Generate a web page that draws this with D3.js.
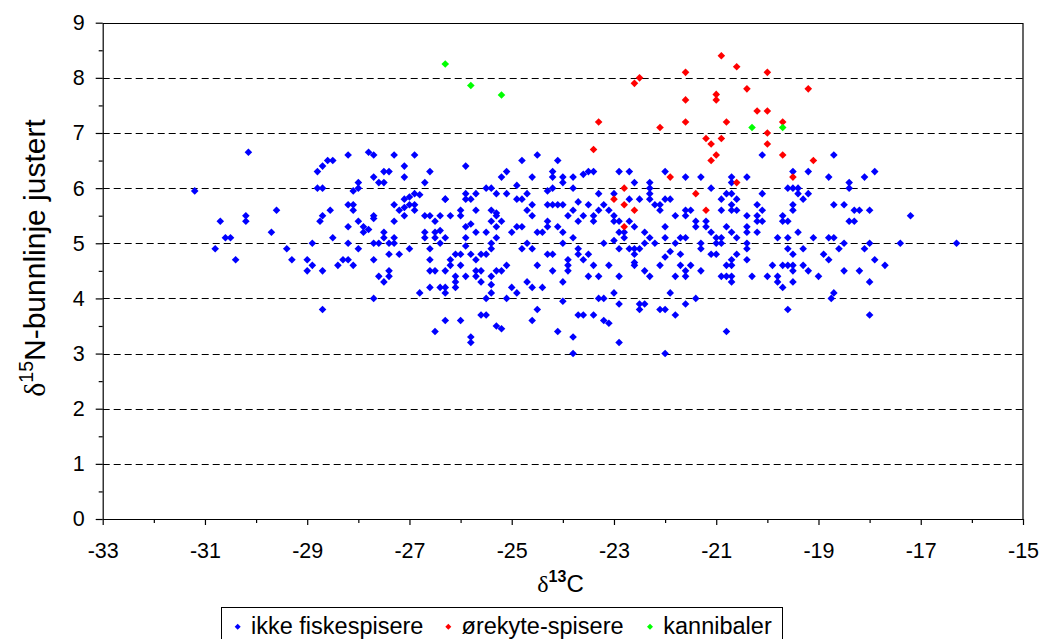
<!DOCTYPE html>
<html>
<head>
<meta charset="utf-8">
<script src="https://cdn.jsdelivr.net/npm/d3@7"></script>
<style>
  body { margin: 0; background: #fff; }
  text { font-family: "Liberation Sans", Arial, sans-serif; fill: #000; }
</style>
</head>
<body>
<svg class="chart" width="1042" height="639"></svg>
<script>
var width = 1042,
    height = 639;

var plot = {
    left: 102.7,
    right: 1023,
    top: 22.7,
    bottom: 519
};

// x = d13C, y = d15N-bunnlinje justert
var ikkeFiskespisere = [
    [-31.2, 5.95], [-30.8, 4.9], [-30.7, 5.4], [-30.6, 5.1], [-30.5, 5.1], [-30.4, 4.7], [-30.2, 5.5], [-30.2, 5.4],
    [-30.15, 6.65], [-29.7, 5.2], [-29.6, 5.6], [-29.4, 4.9], [-29.3, 4.7], [-29.0, 4.7], [-29.0, 4.5], [-28.9, 5.0],
    [-28.9, 4.6], [-28.8, 6.3], [-28.8, 6.0], [-28.7, 6.4], [-28.7, 6.0], [-28.7, 5.5], [-28.75, 5.4], [-28.7, 4.5],
    [-28.7, 3.8], [-28.6, 6.5], [-28.5, 6.5], [-28.55, 5.6], [-28.5, 5.1], [-28.4, 4.6], [-28.3, 4.7], [-28.2, 6.6],
    [-28.2, 5.7], [-28.2, 5.3], [-28.2, 5.0], [-28.2, 4.7], [-28.1, 5.7], [-28.1, 5.6], [-28.1, 4.6], [-28.1, 5.95],
    [-28.0, 6.1], [-28.0, 6.0], [-28.0, 5.4], [-28.0, 4.9], [-27.9, 5.3], [-27.9, 5.2], [-27.8, 5.25], [-27.8, 6.65],
    [-27.7, 6.6], [-27.7, 6.2], [-27.7, 5.5], [-27.7, 5.45], [-27.7, 5.0], [-27.7, 4.7], [-27.7, 4.0], [-27.6, 6.1],
    [-27.6, 5.0], [-27.6, 4.4], [-27.5, 6.3], [-27.5, 5.2], [-27.5, 5.1], [-27.5, 4.3], [-27.5, 6.1], [-27.4, 6.3],
    [-27.4, 5.0], [-27.4, 4.8], [-27.4, 4.5], [-27.4, 4.4], [-27.3, 6.6], [-27.3, 5.7], [-27.3, 5.4], [-27.3, 5.1],
    [-27.3, 5.0], [-27.2, 5.6], [-27.2, 4.8],
    [-26.5, 3.4], [-26.3, 3.6], [-26.0, 3.6], [-26.8, 4.1], [-26.9, 6.6], [-27.1, 6.4], [-27.1, 6.2], [-26.9, 5.9],
    [-26.8, 5.88], [-27.1, 5.8], [-27.0, 5.84], [-27.0, 5.7], [-26.9, 5.7], [-26.9, 5.6], [-27.1, 5.5], [-27.1, 5.65],
    [-26.6, 6.3], [-26.7, 6.1], [-26.7, 5.5], [-26.7, 5.2], [-26.7, 5.1], [-26.6, 5.5], [-26.5, 5.4], [-26.5, 5.2],
    [-26.5, 5.1], [-26.4, 5.5], [-26.4, 5.0], [-26.3, 5.8], [-26.4, 5.23], [-26.3, 5.1], [-26.6, 4.9], [-26.6, 4.7],
    [-26.6, 4.5], [-26.5, 4.5], [-26.6, 4.2], [-26.4, 4.2], [-26.3, 4.2], [-26.3, 4.1], [-26.3, 4.5], [-26.2, 4.7],
    [-26.2, 5.5], [-26.1, 4.8], [-26.1, 4.4], [-26.1, 4.3], [-26.1, 4.2], [-26.2, 4.6], [-26.0, 5.6], [-26.0, 5.5],
    [-26.0, 4.8], [-26.0, 4.6], [-27.0, 4.9],
    [-25.9, 6.4], [-24.5, 6.6], [-24.8, 6.5], [-24.1, 6.5], [-25.1, 6.3], [-25.2, 6.2], [-24.6, 6.2], [-24.2, 6.3],
    [-24.2, 6.2], [-24.0, 6.2], [-23.8, 6.2], [-24.0, 6.1], [-23.6, 6.25], [-23.5, 6.3], [-23.4, 6.3], [-22.9, 6.3],
    [-22.7, 6.3], [-22.6, 6.1], [-22.3, 6.1], [-22.0, 6.3], [-21.6, 6.2], [-21.3, 6.2], [-20.7, 6.2], [-24.9, 6.05],
    [-25.5, 6.0], [-25.4, 6.0], [-24.3, 5.95], [-24.2, 6.0], [-23.8, 6.0], [-26.3, 5.8], [-25.9, 5.9], [-25.9, 5.8],
    [-25.8, 5.8], [-25.7, 5.9], [-25.3, 5.9], [-25.1, 5.9], [-24.9, 5.8], [-24.8, 5.8], [-24.7, 5.9], [-24.6, 5.7],
    [-24.3, 5.7], [-24.2, 5.7], [-24.1, 5.7], [-24.0, 5.7], [-23.7, 5.75], [-23.5, 5.7], [-23.3, 5.9], [-23.2, 5.7],
    [-23.0, 5.9], [-22.7, 5.8], [-22.5, 5.8], [-22.3, 6.0], [-22.3, 5.9], [-22.3, 5.8], [-22.2, 5.7], [-22.0, 5.8],
    [-21.9, 5.8], [-21.6, 5.6], [-21.5, 5.6], [-21.1, 6.0], [-20.9, 5.8], [-20.8, 5.9], [-20.7, 5.9], [-20.7, 5.7],
    [-20.6, 5.6], [-20.7, 6.1],
    [-25.9, 5.3], [-25.9, 5.1], [-25.8, 5.35], [-25.7, 5.6], [-25.7, 5.2], [-25.4, 5.4], [-25.4, 5.6], [-25.3, 5.5],
    [-25.3, 5.55], [-25.2, 5.4], [-25.3, 5.3], [-25.5, 5.2], [-25.3, 5.1], [-25.4, 5.0], [-25.0, 5.2], [-24.9, 5.3],
    [-24.8, 5.3], [-24.7, 5.6], [-24.6, 5.5], [-24.5, 5.2], [-24.4, 5.2], [-24.3, 5.3], [-24.3, 5.4], [-24.1, 5.3],
    [-24.0, 5.2], [-23.9, 5.5], [-23.8, 5.6], [-23.7, 5.4], [-23.8, 5.1], [-23.6, 5.5], [-23.4, 5.5], [-23.4, 5.4],
    [-23.3, 5.6], [-23.1, 5.6], [-23.0, 5.5], [-23.0, 5.4], [-22.9, 5.4], [-22.7, 5.4], [-22.9, 5.2], [-22.8, 5.2],
    [-22.8, 5.1], [-22.6, 5.3], [-22.4, 5.2], [-22.4, 5.0], [-22.3, 5.1], [-22.2, 5.0], [-22.1, 5.6], [-22.1, 5.7],
    [-22.0, 5.3], [-22.0, 5.1], [-21.8, 5.5], [-21.8, 5.0], [-21.7, 5.1], [-21.6, 5.5], [-21.6, 5.1], [-21.4, 5.4],
    [-21.4, 5.3], [-21.3, 5.0], [-21.2, 5.4], [-21.2, 5.3], [-21.1, 5.2], [-21.0, 5.1], [-20.9, 5.1], [-20.9, 5.0],
    [-20.8, 5.3], [-20.6, 5.1], [-20.9, 5.6],
    [-25.9, 4.95], [-25.9, 4.4], [-25.8, 4.8], [-25.7, 4.7], [-25.6, 4.8], [-25.5, 4.8], [-25.4, 4.9], [-25.7, 4.5],
    [-25.7, 4.4], [-25.6, 4.5], [-25.6, 4.3], [-25.4, 4.4], [-25.4, 4.25], [-25.3, 4.5], [-25.2, 4.5], [-25.1, 4.6],
    [-25.4, 4.1], [-25.5, 4.0], [-25.8, 3.3], [-25.8, 3.2], [-25.6, 3.7], [-25.5, 3.7], [-25.3, 3.5], [-25.2, 3.45],
    [-25.1, 4.0], [-25.0, 4.2], [-24.9, 4.1], [-24.8, 4.9], [-24.7, 5.0], [-24.6, 4.9], [-24.7, 4.3], [-24.6, 4.2],
    [-24.5, 4.6], [-24.4, 4.2], [-24.5, 3.8], [-24.6, 3.6], [-24.3, 4.8], [-24.2, 4.8], [-24.2, 4.5], [-24.0, 5.0],
    [-23.9, 4.6], [-23.9, 4.7], [-23.9, 4.5], [-24.0, 4.3], [-24.0, 3.95], [-24.1, 3.4], [-23.8, 3.3], [-23.8, 3.0],
    [-23.7, 4.9], [-23.7, 4.8], [-23.6, 4.7], [-23.5, 4.8], [-23.4, 4.6], [-23.5, 4.4], [-23.3, 4.4], [-23.7, 3.7],
    [-23.6, 3.7], [-23.4, 3.7], [-23.3, 4.0], [-23.2, 4.0], [-23.2, 5.0], [-23.2, 3.6], [-23.1, 3.55], [-23.1, 4.6],
    [-23.0, 5.05], [-22.9, 4.9], [-23.0, 4.1], [-22.9, 4.4], [-22.9, 3.9], [-22.9, 3.2], [-22.7, 4.9], [-22.6, 4.9],
    [-22.6, 4.8], [-22.6, 4.65], [-22.6, 4.6], [-22.5, 4.9], [-22.4, 4.5], [-22.3, 4.4], [-22.5, 3.9], [-22.4, 3.9],
    [-22.5, 3.8], [-22.1, 4.6], [-22.0, 4.75], [-21.9, 4.85], [-22.1, 3.8], [-22.0, 3.8], [-22.0, 3.0], [-21.9, 4.1],
    [-21.8, 4.4], [-21.8, 3.7], [-21.7, 4.8], [-21.7, 4.6], [-21.6, 4.5], [-21.6, 4.4], [-21.5, 4.6], [-21.6, 3.9],
    [-21.4, 4.0], [-21.3, 4.9], [-21.3, 4.5], [-21.1, 4.8], [-21.0, 4.8], [-21.0, 5.0], [-20.8, 4.6], [-20.7, 4.6],
    [-20.7, 4.4], [-20.7, 4.3], [-20.8, 4.4], [-20.6, 4.8], [-20.7, 4.7], [-20.8, 3.4], [-20.6, 5.8], [-20.7, 5.6],
    [-20.7, 5.2], [-20.9, 4.4],
    [-20.1, 6.6], [-18.7, 6.6], [-20.4, 6.2], [-19.5, 6.3], [-19.2, 6.3], [-18.8, 6.2], [-18.1, 6.2], [-17.9, 6.3],
    [-18.4, 6.1], [-18.4, 6.0], [-20.1, 5.9], [-19.6, 6.0], [-19.5, 6.0], [-19.4, 6.0], [-19.4, 5.9], [-19.2, 5.9],
    [-19.3, 5.8], [-19.5, 5.7], [-19.5, 5.6], [-20.2, 5.7], [-20.1, 5.6], [-20.4, 5.5], [-20.2, 5.5], [-20.2, 5.4],
    [-20.1, 5.4], [-19.7, 5.5], [-19.7, 5.4], [-19.6, 5.4], [-20.4, 5.3], [-20.4, 5.2], [-20.2, 5.2], [-18.7, 5.7],
    [-18.5, 5.7], [-18.3, 5.6], [-18.2, 5.6], [-18.0, 5.6], [-18.4, 5.4], [-18.3, 5.4], [-17.2, 5.5], [-19.4, 5.2],
    [-19.1, 5.1], [-19.8, 5.1], [-19.6, 5.1], [-18.8, 5.1], [-18.7, 5.1], [-18.5, 5.0], [-18.0, 5.0], [-17.4, 5.0],
    [-16.3, 5.0], [-20.4, 5.0], [-20.4, 4.9], [-19.6, 4.9], [-19.3, 4.9], [-18.6, 4.9], [-18.1, 4.9], [-19.5, 4.8],
    [-18.9, 4.8], [-20.4, 4.7], [-18.8, 4.7], [-17.9, 4.7], [-19.9, 4.6], [-19.7, 4.6], [-19.6, 4.6], [-19.5, 4.6],
    [-19.3, 4.6], [-17.7, 4.6], [-19.5, 4.5], [-19.2, 4.5], [-18.5, 4.5], [-18.2, 4.5], [-20.3, 4.4], [-20.0, 4.4],
    [-19.8, 4.4], [-19.0, 4.4], [-19.8, 4.3], [-19.5, 4.3], [-18.0, 4.3], [-19.7, 4.2], [-18.7, 4.1], [-18.75, 4.0],
    [-19.6, 3.8], [-18.0, 3.7]
];

var orekyteSpisere = [
    [-20.9, 8.4], [-20.6, 8.2], [-21.6, 8.1], [-20.0, 8.1], [-22.5, 8.0], [-22.6, 7.9], [-20.4, 7.8], [-19.2, 7.8],
    [-21.0, 7.7], [-21.0, 7.6], [-21.6, 7.6], [-20.2, 7.4], [-20.0, 7.4], [-23.3, 7.2], [-21.6, 7.2], [-20.8, 7.2],
    [-19.7, 7.2], [-22.1, 7.1], [-20.0, 7.0], [-21.2, 6.9], [-20.9, 6.9], [-21.1, 6.8], [-20.0, 6.8], [-23.4, 6.7],
    [-21.0, 6.6], [-19.7, 6.6], [-21.1, 6.5], [-19.1, 6.5], [-19.5, 6.2], [-20.6, 6.1], [-21.9, 6.2], [-21.4, 5.9],
    [-22.8, 6.0], [-23.0, 5.8], [-22.8, 5.7], [-22.6, 5.6], [-21.2, 5.6], [-22.8, 5.3]
];

var kannibaler = [
    [-26.3, 8.25], [-25.8, 7.86], [-25.2, 7.69], [-20.3, 7.1], [-19.7, 7.1]
];

var series = [
    { name: "ikke fiskespisere", color: "#0000ff", values: ikkeFiskespisere },
    { name: "ørekyte-spisere", color: "#ff0000", values: orekyteSpisere },
    { name: "kannibaler", color: "#00ff00", values: kannibaler }
];

var xTicks = d3.range(-33, -14, 2);
var yTicks = d3.range(0, 10, 1);

var chart = d3.select(".chart")
    .attr("viewBox", "0 0 " + width + " " + height);

var x = d3.scaleLinear()
    .domain([-33, -15])
    .range([plot.left, plot.right]);

var y = d3.scaleLinear()
    .domain([0, 9])
    .range([plot.bottom, plot.top]);

// dashed gridlines
chart.append("g")
    .selectAll("line")
    .data(yTicks.filter(function (d) { return d > 0 && d < 9; }))
    .enter()
    .append("line")
    .attr("x1", plot.left)
    .attr("x2", plot.right)
    .attr("y1", function (d) { return Math.round(y(d)) + 0.5; })
    .attr("y2", function (d) { return Math.round(y(d)) + 0.5; })
    .style("stroke", "#000")
    .style("stroke-width", 1)
    .style("stroke-dasharray", "7,4");

// plot border top + right
chart.append("path")
    .attr("d", "M" + plot.left + "," + (Math.round(y(9)) + 0.5) + "H" + plot.right + "V" + plot.bottom)
    .style("fill", "none")
    .style("stroke", "#000")
    .style("stroke-width", 1.2);

// minor ticks
chart.append("g")
    .attr("transform", "translate(0," + plot.bottom + ")")
    .call(d3.axisBottom(x).tickValues(d3.range(-32, -15, 2)).tickSize(4).tickFormat(""))
    .call(function (g) { g.select(".domain").remove(); });

chart.append("g")
    .attr("transform", "translate(" + plot.left + ",0)")
    .call(d3.axisLeft(y).tickValues(d3.range(0.5, 9, 1)).tickSize(4).tickFormat(""))
    .call(function (g) { g.select(".domain").remove(); });

var plainFormat = function (d) { return String(d); };

var xAxis = chart.append("g")
    .attr("transform", "translate(0," + plot.bottom + ")")
    .call(d3.axisBottom(x).tickValues(xTicks).tickSize(6).tickSizeOuter(0).tickPadding(18).tickFormat(plainFormat));

var yAxis = chart.append("g")
    .attr("transform", "translate(" + plot.left + ",0)")
    .call(d3.axisLeft(y).tickValues(yTicks).tickSize(7).tickSizeOuter(0).tickPadding(11).tickFormat(plainFormat));

chart.selectAll(".tick line, .domain")
    .style("stroke", "#000")
    .style("stroke-width", 1.2);

xAxis.selectAll("text")
    .style("font-size", "21.5px")
    .style("font-family", "Liberation Sans, Arial, sans-serif")
    .attr("fill", "#000");

yAxis.selectAll("text")
    .style("font-size", "21.5px")
    .style("font-family", "Liberation Sans, Arial, sans-serif")
    .attr("fill", "#000");

// points
var diamond = "M0,-3.8L3.8,0L0,3.8L-3.8,0Z";

series.forEach(function (s) {
    chart.append("g")
        .selectAll("path")
        .data(s.values)
        .enter()
        .append("path")
        .attr("d", diamond)
        .attr("transform", function (d) {
            return "translate(" + x(d[0]) + "," + y(d[1]) + ")";
        })
        .style("fill", s.color);
});

// axis titles
var xTitle = chart.append("text")
    .attr("x", 560.5)
    .attr("y", 592)
    .attr("text-anchor", "middle")
    .style("font-size", "24px");
xTitle.append("tspan").style("font-family", "Liberation Serif, serif").text("δ");
xTitle.append("tspan").attr("dy", -10).style("font-size", "16px").style("font-weight", "bold").text("13");
xTitle.append("tspan").attr("dy", 10).text("C");

var yTitle = chart.append("text")
    .attr("transform", "translate(45,258) rotate(-90)")
    .attr("text-anchor", "middle")
    .style("font-size", "30px");
yTitle.append("tspan").style("font-family", "Liberation Serif, serif").text("δ");
yTitle.append("tspan").attr("dy", -12).style("font-size", "19.5px").text("15");
yTitle.append("tspan").attr("dy", 12).text("N-bunnlinje justert");

// legend
var legend = chart.append("g");

legend.append("rect")
    .attr("x", 221.5)
    .attr("y", 607.5)
    .attr("width", 561)
    .attr("height", 50)
    .style("fill", "#fff")
    .style("stroke", "#000")
    .style("stroke-width", 1);

var legendX = [237.7, 448.3, 650];

series.forEach(function (s, i) {
    legend.append("path")
        .attr("d", "M0,-3L3,0L0,3L-3,0Z")
        .attr("transform", "translate(" + legendX[i] + ",626.7)")
        .style("fill", s.color);
    legend.append("text")
        .attr("x", legendX[i] + 13.3)
        .attr("y", 633.5)
        .style("font-size", "23.5px")
        .text(s.name);
});
</script>
</body>
</html>
